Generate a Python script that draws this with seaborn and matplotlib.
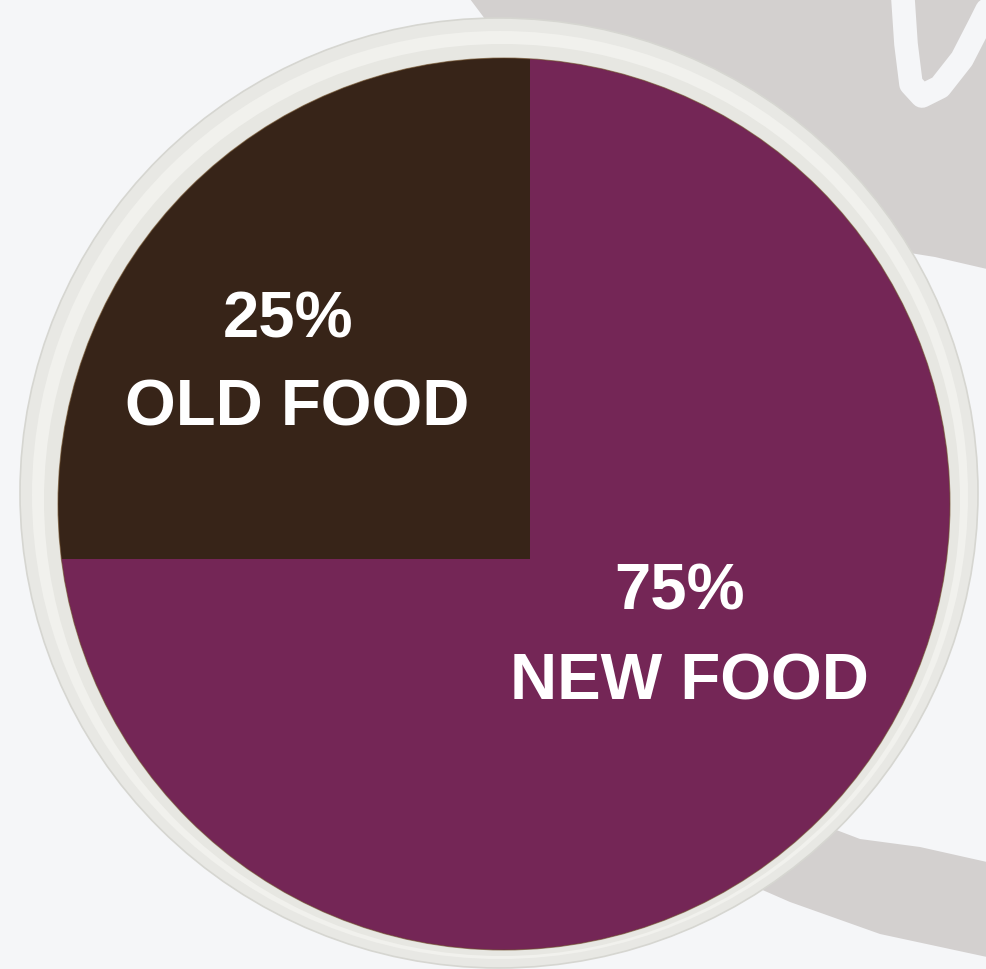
import matplotlib
matplotlib.use("Agg")
import matplotlib.pyplot as plt
import seaborn as sns
from matplotlib.patches import Circle, Ellipse, Polygon

# data
shares = [25, 75]
names = ["OLD FOOD", "NEW FOOD"]
pct_labels = [f"{s}%" for s in shares]
food_colors = ["#372418", "#742656"]

W, H = 987, 970


def py(y):
    # pixel row (from top) -> data y (up)
    return H - y


sns.set_theme(style="white")
plt.rcParams["font.family"] = ["Liberation Sans", "DejaVu Sans"]

fig = plt.figure(figsize=(W / 100, H / 100), dpi=100, facecolor="#f5f6f8")
ax = fig.add_axes([0, 0, 1, 1])
ax.set_facecolor("#f5f6f8")
ax.set_xlim(0, W)
ax.set_ylim(0, H)

# grey decoration behind the bowl
grey = "#d3d0cf"
top_shape = Polygon([(470, py(0)), (W, py(0)), (W, py(270)), (935, py(258)),
                     (760, py(230)), (560, py(120))],
                    closed=True, facecolor=grey, edgecolor="none", zorder=0)
ax.add_patch(top_shape)
band = Polygon([(600, py(820)), (790, py(903)), (880, py(935)), (W, py(958)),
                (W, py(863)), (920, py(848)), (860, py(840)), (650, py(760))],
               closed=True, facecolor=grey, edgecolor="none", zorder=0)
ax.add_patch(band)
# white hand-drawn stroke in the corner
ax.plot([903, 906, 911, 922, 940, 962, 980, 990],
        [py(0), py(45), py(85), py(97), py(88), py(60), py(25), py(5)],
        color="#f5f6f8", lw=17, solid_capstyle="round", zorder=0.5)

# bowl rim
ax.add_patch(Ellipse((499, py(494)), 2 * 479, 2 * 475, facecolor="#e8e8e4",
                     edgecolor="#d6d6d1", lw=1.2, zorder=1))
ax.add_patch(Ellipse((500, py(496)), 2 * 468, 2 * 464, facecolor="#f1f1ed",
                     edgecolor="none", zorder=1.1))
ax.add_patch(Ellipse((502, py(501)), 2 * 458, 2 * 456, facecolor="#e7e7e2",
                     edgecolor="none", zorder=1.2))

# inside of the bowl, used to clip the food
inner = Circle((504, py(505)), 446, facecolor="none", edgecolor="#6b4a25",
               lw=0.8, alpha=0.6, zorder=2.1)
ax.add_patch(inner)

# food as a pie (pie wedges come with clip_on=False)
wedges, _ = ax.pie(shares, colors=food_colors, startangle=90, counterclock=True,
                   center=(530, py(560)), radius=540, frame=True,
                   wedgeprops=dict(linewidth=0, zorder=2))
for w in wedges:
    w.set_clip_on(True)
    w.set_clip_path(inner)

# labels
pct_pos = [(288, 321), (680, 592)]
name_pos = [(297, 408), (689, 683)]
for i in range(len(shares)):
    ax.text(pct_pos[i][0], py(pct_pos[i][1]), pct_labels[i], color="white",
            fontsize=47, fontweight="bold", ha="center", va="center", zorder=3)
    ax.text(name_pos[i][0], py(name_pos[i][1]), names[i], color="white",
            fontsize=47, fontweight="bold", ha="center", va="center", zorder=3)

ax.set_xlim(0, W)
ax.set_ylim(0, H)
ax.set_aspect("auto")
ax.axis("off")

fig.savefig("out.png", dpi=100, facecolor=fig.get_facecolor())
